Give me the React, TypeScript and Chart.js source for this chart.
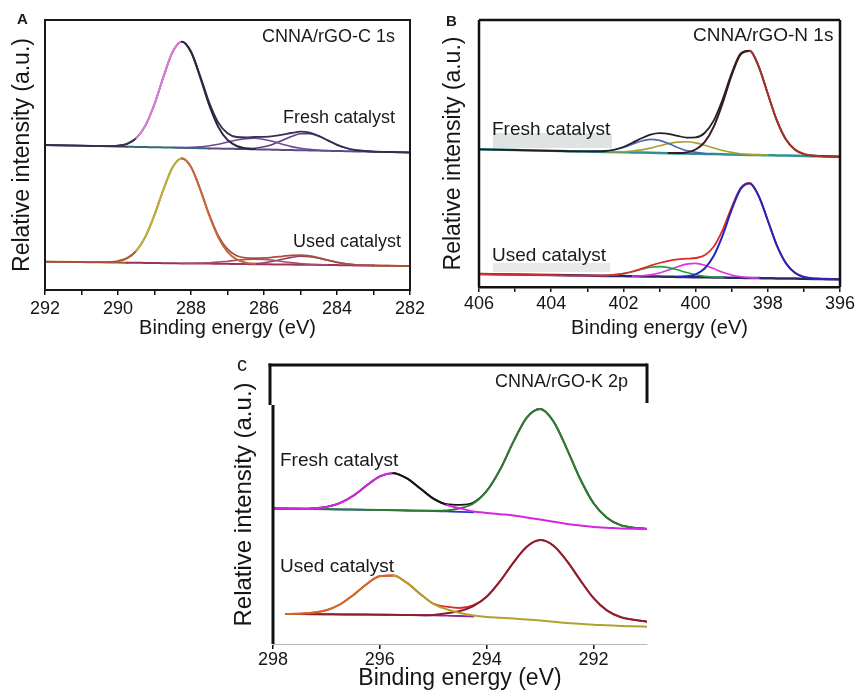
import React, { useEffect, useRef } from "react";
import { Chart, registerables } from "chart.js";

Chart.register(...registerables);
Chart.defaults.font.family = "'Liberation Sans', Arial, sans-serif";

// ---------------- Panel A : C 1s ----------------
const energyA = [292, 291, 290.5, 290, 289.75, 289.5, 289.25, 289, 288.75, 288.5, 288.25, 288, 287.75, 287.5, 287.25, 287, 286.75, 286.5, 286.25, 286, 285.75, 285.5, 285.25, 285, 284.75, 284.5, 284.25, 284, 283.75, 283.5, 283, 282.5, 282];
const freshEnvelopeA = [143, 142.3, 141.9, 142.3, 144.2, 149.9, 162.4, 184.0, 211.7, 236.4, 246.4, 236.5, 212.3, 185.4, 165.3, 154.8, 151.0, 150.6, 151.0, 151.2, 151.9, 153.3, 155.0, 156.3, 155.4, 152.1, 147.6, 143.2, 140.0, 138.0, 136.4, 135.9, 135.5];
const freshMainA = [null, null, null, 142.3, 144.2, 149.9, 162.4, 184.0, 211.7, 236.3, 246.2, 235.9, 210.9, 182.8, 160.9, 148.1, 142.0, 139.7, 138.9, null, null, null, null, null, null, null, null, null, null, null, null, null, null];
const freshPeak2A = [null, null, null, null, null, null, null, null, null, 140.5, 140.4, 140.6, 141.1, 142.2, 143.8, 146.0, 148.0, 149.4, 149.7, 148.5, 146.4, 143.8, 141.4, 139.8, 138.6, 137.8, 137.3, null, null, null, null, null, null];
const freshPeak3A = [null, null, null, null, null, null, null, null, null, null, null, null, null, null, null, null, 139.2, 139.3, 139.8, 141.2, 143.8, 147.6, 151.5, 154.3, 154.4, 151.7, 147.5, 143.2, 140.0, 138.0, 136.4, null, null];
const freshBaseA = [143, 142.3, 141.9, 141.5, 141.3, 141.1, 140.9, 140.8, 140.6, 140.4, 140.2, 140, 139.8, 139.6, 139.4, 139.3, 139.1, 138.9, 138.7, 138.5, 138.3, 138.1, 137.9, 137.8, 137.6, 137.4, 137.2, 137, 136.8, 136.6, 136.3, 135.9, 135.5];
const usedEnvelopeA = [26.3, 25.9, 25.8, 26.9, 29.9, 37.2, 51.2, 73.1, 99.0, 121.0, 129.6, 121.1, 99.1, 73.4, 52.0, 38.8, 32.3, 30.2, 29.9, 30.1, 30.8, 31.7, 32.6, 32.9, 32.0, 30.2, 27.8, 25.7, 24.2, 23.2, 22.5, 22.2, 22.0];
const usedMainA = [null, null, null, 26.9, 29.9, 37.2, 51.2, 73.1, 99.0, 121.0, 129.6, 120.9, 98.7, 72.5, 50.4, 36.2, 28.6, 25.4, 24.2, null, null, null, null, null, null, null, null, null, null, null, null, null, null];
const usedPeak2A = [null, null, null, null, null, null, null, null, null, null, 24.7, 24.8, 24.9, 25.3, 25.9, 26.8, 27.7, 28.5, 28.8, 28.5, 27.7, 26.5, 25.4, 24.5, 23.8, 23.4, 23.1, null, null, null, null, null, null];
const usedPeak3A = [null, null, null, null, null, null, null, null, null, null, null, null, null, null, null, null, 24.0, 24.1, 24.5, 25.3, 26.7, 28.7, 30.6, 31.7, 31.4, 29.9, 27.7, 25.7, 24.2, 23.2, 22.5, null, null];
const usedBaseA = [26.3, 25.9, 25.7, 25.4, 25.3, 25.2, 25.1, 25.0, 24.8, 24.7, 24.6, 24.6, 24.5, 24.4, 24.3, 24.2, 24.0, 23.9, 23.8, 23.7, 23.6, 23.5, 23.4, 23.3, 23.2, 23.1, 23.0, 22.9, 22.8, 22.6, 22.4, 22.2, 22.0];
const ticksA = [292, 291, 290, 289, 288, 287, 286, 285, 284, 283, 282];
const tickLabelsA = [292, 290, 288, 286, 284, 282];

// ---------------- Panel B : N 1s ----------------
const energyB = [406, 405, 404, 403, 402.5, 402, 401.75, 401.5, 401.25, 401, 400.75, 400.5, 400.25, 400, 399.75, 399.5, 399.25, 399, 398.75, 398.5, 398.25, 398, 397.75, 397.5, 397.25, 397, 396.5, 396];
const freshEnvelopeB = [137.7, 137.0, 136.2, 135.6, 136.0, 140.0, 144.2, 148.7, 152.3, 153.8, 153.2, 151.2, 149.4, 149.6, 154.0, 166.3, 187.8, 213.9, 233.6, 236.4, 220.4, 193.3, 166.6, 147.7, 137.4, 133.0, 130.8, 130.3];
const freshMainB = [null, null, null, null, null, null, null, null, null, null, 133.9, 133.9, 134.6, 137.5, 144.9, 160.1, 184.0, 211.8, 232.6, 236.0, 220.2, 193.2, 166.6, 147.7, 137.4, 133.0, 130.8, 130.3];
const freshPeakHighB = [null, null, null, 135.6, 135.9, 139.4, 142.8, 146.0, 147.6, 146.6, 143.5, 139.6, 136.4, 134.6, 133.5, 133.0, null, null, null, null, null, null, null, null, null, null, null, null];
const freshPeakMidB = [null, null, null, null, 135.2, 135.3, 136.0, 137.1, 138.9, 141.2, 143.4, 144.9, 145.2, 144.1, 141.8, 139.0, 136.5, 134.6, 133.3, 132.5, 132.1, 131.9, null, null, null, null, null, null];
const freshBaseB = [137.7, 137.0, 136.2, 135.5, 135.1, 134.7, 134.6, 134.4, 134.2, 134.0, 133.8, 133.6, 133.4, 133.3, 133.1, 132.9, 132.7, 132.5, 132.3, 132.1, 131.9, 131.8, 131.6, 131.4, 131.2, 131.0, 130.7, 130.3];
const usedEnvelopeB = [13.0, 12.5, 11.9, 11.4, 11.5, 13.4, 15.5, 18.3, 21.3, 24.0, 26.1, 27.6, 28.3, 29.0, 31.7, 40.2, 57.1, 80.0, 99.2, 104.0, 90.9, 66.5, 41.6, 23.9, 14.2, 10.0, 8.1, 7.7];
const usedMainB = [null, null, null, null, null, null, null, null, null, null, null, 10.3, 10.7, 12.7, 18.5, 31.0, 51.7, 77.3, 98.1, 103.6, 90.8, 66.5, 41.6, 23.9, 14.2, 10.0, 8.1, 7.7];
const usedPeakHighB = [null, null, null, null, 11.5, 13.4, 15.3, 17.7, 19.7, 20.4, 19.4, 17.2, 14.5, 12.3, 10.8, 10.0, 9.5, null, null, null, null, null, null, null, null, null, null, null];
const usedPeakMidB = [null, null, null, null, null, null, 10.9, 11.2, 12.1, 14.0, 16.9, 20.3, 22.9, 23.6, 21.8, 18.4, 14.7, 12.0, 10.3, 9.4, 9.0, null, null, null, null, null, null, null];
const usedBaseB = [13.0, 12.5, 11.9, 11.4, 11.1, 10.9, 10.7, 10.6, 10.5, 10.4, 10.2, 10.1, 9.9, 9.8, 9.7, 9.6, 9.4, 9.3, 9.2, 9.0, 8.9, 8.8, 8.6, 8.5, 8.4, 8.2, 8.0, 7.7];
const ticksB = [406, 405, 404, 403, 402, 401, 400, 399, 398, 397, 396];
const tickLabelsB = [406, 404, 402, 400, 398, 396];

// ---------------- Panel C : K 2p ----------------
const energyC = [298, 297.75, 297.5, 297, 296.75, 296.5, 296.25, 296, 295.75, 295.5, 295.25, 295, 294.75, 294.5, 294.25, 294, 293.75, 293.5, 293.25, 293, 292.75, 292.5, 292.25, 292, 291.75, 291.5, 291.25, 291];
const freshEnvelopeC = [135.5, 135.4, 135.3, 137.1, 140.9, 148.2, 158.4, 167.6, 170.8, 165.8, 155.8, 145.6, 139.9, 139.2, 141.5, 153.1, 174.4, 202.3, 226.4, 235.0, 222.6, 195.2, 165.0, 140.7, 126.3, 119.0, 116.3, 115.2];
const freshK2p3C = [135.5, 135.4, 135.2, 134.8, 134.6, 134.4, 134.2, 134.0, 133.8, 133.5, 133.3, 133.2, 133.4, 135.7, 140.5, 153.0, 174.4, 202.3, 226.4, 235.0, 222.6, 195.2, 165.0, 140.7, 126.3, 119.0, 116.3, 115.2];
const freshK2p1C = [135.5, 135.4, 135.3, 137.1, 140.9, 148.2, 158.4, 167.6, 170.8, 165.8, 155.8, 145.4, 139.1, 135.7, 132.6, 131.1, 129.8, 128.5, 126.5, 124.5, 122.3, 120.0, 118.5, 117.0, 116.3, 115.5, 115.3, 115.0];
const freshBaseC = [135.5, 135.4, 135.2, 134.8, 134.6, 134.4, 134.2, 134.0, 133.8, 133.5, 133.3, 133.0, 132.6, 132.2, 131.6, null, null, null, null, null, null, null, null, null, null, null, null, null];
const usedEnvelopeC = [null, 30.1, 30.3, 33.8, 39.5, 48.8, 59.8, 67.8, 68.5, 61.4, 50.3, 40.5, 37.3, 36.0, 39.0, 47.4, 62.8, 81.4, 97.2, 103.9, 98.3, 83.1, 63.9, 45.9, 33.6, 27.0, 24.2, 22.3];
const usedK2p1C = [null, 30.1, 30.3, 33.8, 39.5, 48.8, 59.8, 67.8, 68.5, 61.4, 50.3, 40.1, 34.8, 31.0, 28.5, 27.1, 26.3, 25.5, 24.5, 23.5, 22.3, 21.0, 20.2, 19.3, 18.7, 18.0, 17.7, 17.3];
const usedK2p3C = [null, 30.0, 29.9, 29.7, 29.6, 29.5, 29.4, 29.3, 29.2, 29.0, 28.8, 29.0, 30.8, 33.0, 38.0, 47.3, 62.8, 81.4, 97.2, 103.9, 98.3, 83.1, 63.9, 45.9, 33.6, 27.0, 24.2, 22.3];
const usedBaseC = [null, 30.0, 29.9, 29.7, 29.6, 29.5, 29.4, 29.3, 29.2, 29.0, 28.8, 28.6, 28.3, 28.0, 27.5, null, null, null, null, null, null, null, null, null, null, null, null, null];
const ticksC = [298, 296, 294, 292];
const tickLabelsC = [298, 296, 294, 292];

type Series = { values: (number | null)[]; color: string; width: number; colorAt?: (x: number) => string };
type Spec = {
  w: number; h: number; left: number; top: number;
  padding: { left: number; top: number; right: number; bottom: number };
  yAxisWidth: number; xAxisHeight: number;
  xMin: number; xMax: number; yMin: number; yMax: number;
  energy: number[]; ticks: number[]; labels: number[];
  tickSize: number; tickPad: number; xTitleSize: number; xTitlePad: number;
  yTitleSize: number; yTitlePad: number;
  bottomColor: string; bottomWidth: number;
  frame: (ctx: CanvasRenderingContext2D, a: { left: number; right: number; top: number; bottom: number }) => void;
  series: Series[];
};

function line(ctx: CanvasRenderingContext2D, x1: number, y1: number, x2: number, y2: number, w: number, c: string) {
  ctx.save();
  ctx.strokeStyle = c;
  ctx.lineWidth = w;
  ctx.beginPath();
  ctx.moveTo(x1, y1);
  ctx.lineTo(x2, y2);
  ctx.stroke();
  ctx.restore();
}

function build(canvas: HTMLCanvasElement, spec: Spec) {
  const datasets = spec.series.map((s) => ({
    data: spec.energy.map((x, i) => ({ x, y: s.values[i] })),
    borderColor: s.color,
    borderWidth: s.width,
    pointRadius: 0,
    fill: false,
    cubicInterpolationMode: "monotone" as const,
    spanGaps: false,
    borderCapStyle: "round" as const,
    segment: s.colorAt ? { borderColor: (c: any) => (s.colorAt as (x: number) => string)((c.p0.parsed.x + c.p1.parsed.x) / 2) } : undefined,
  }));
  const framePlugin = {
    id: "frame",
    afterDraw(chart: any) {
      spec.frame(chart.ctx, chart.chartArea);
    },
  };
  return new Chart(canvas, {
    type: "line",
    data: { datasets } as any,
    options: {
      animation: false,
      responsive: false,
      events: [],
      layout: { padding: spec.padding },
      plugins: { legend: { display: false }, tooltip: { enabled: false } },
      scales: {
        x: {
          type: "linear",
          reverse: true,
          min: spec.xMin,
          max: spec.xMax,
          afterBuildTicks: (sc: any) => {
            sc.ticks = spec.ticks.map((v) => ({ value: v }));
          },
          afterFit: (sc: any) => {
            sc.height = spec.xAxisHeight;
          },
          ticks: {
            autoSkip: false,
            maxRotation: 0,
            padding: spec.tickPad,
            color: "#151515",
            font: { size: spec.tickSize },
            callback: (v: any) => (spec.labels.includes(Number(v)) ? String(v) : ""),
          },
          grid: { display: true, drawOnChartArea: false, drawTicks: true, tickLength: 5, color: "#111", lineWidth: 1.5 },
          border: { display: true, color: spec.bottomColor, width: spec.bottomWidth },
          title: {
            display: true,
            text: "Binding energy (eV)",
            color: "#151515",
            font: { size: spec.xTitleSize },
            padding: { top: 0, bottom: spec.xTitlePad },
          },
        },
        y: {
          type: "linear",
          min: spec.yMin,
          max: spec.yMax,
          afterFit: (sc: any) => {
            sc.width = spec.yAxisWidth;
          },
          ticks: { display: false },
          grid: { display: false, drawTicks: false },
          border: { display: false },
          title: {
            display: true,
            text: "Relative intensity (a.u.)",
            color: "#151515",
            font: { size: spec.yTitleSize },
            padding: { top: spec.yTitlePad, bottom: 0 },
          },
        },
      },
    } as any,
    plugins: [framePlugin],
  });
}

const specA: Spec = {
  w: 430, h: 345, left: 0, top: 0,
  padding: { left: 0, top: 20, right: 20, bottom: 0 },
  yAxisWidth: 45, xAxisHeight: 55,
  xMin: 282, xMax: 292, yMin: -2, yMax: 268,
  energy: energyA, ticks: ticksA, labels: tickLabelsA,
  tickSize: 18, tickPad: 3, xTitleSize: 20, xTitlePad: 5, yTitleSize: 23, yTitlePad: 9,
  bottomColor: "#111", bottomWidth: 2,
  frame: (ctx, a) => {
    ctx.save();
    ctx.strokeStyle = "#1a1a1a";
    ctx.lineWidth = 2;
    ctx.strokeRect(a.left, a.top, a.right - a.left, a.bottom - a.top);
    ctx.restore();
  },
  series: [
    { values: freshMainA, color: "#2e2440", width: 2, colorAt: (x) => (x > 289.6 ? "#3a3450" : x > 288.2 ? "#e07ad6" : "#2e2440") },
    { values: freshEnvelopeA, color: "#3a2d52", width: 1.8 },
    { values: freshPeak2A, color: "#6b4a96", width: 1.6 },
    { values: freshPeak3A, color: "#5b3f86", width: 1.6 },
    { values: freshBaseA, color: "#3c4a68", width: 2, colorAt: (x) => (x > 289.8 ? "#3a3d55" : x > 287.5 ? "#2f6a7a" : x > 283 ? "#5a4a88" : "#2a3a3a") },
    { values: usedMainA, color: "#c4673a", width: 2, colorAt: (x) => (x > 289.6 ? "#b0603a" : x > 288.2 ? "#b8b23c" : "#c4673a") },
    { values: usedEnvelopeA, color: "#a8503e", width: 1.8 },
    { values: usedPeak2A, color: "#a84a74", width: 1.6 },
    { values: usedPeak3A, color: "#9e3e68", width: 1.6 },
    { values: usedBaseA, color: "#8e2c48", width: 2, colorAt: (x) => (x > 289.8 ? "#9a5a2a" : x > 283.2 ? "#9a3356" : "#a8642e") },
  ],
};

const specB: Spec = {
  w: 429, h: 345, left: 430, top: 0,
  padding: { left: 0, top: 20, right: 19, bottom: 0 },
  yAxisWidth: 49, xAxisHeight: 58,
  xMin: 396, xMax: 406, yMin: 0, yMax: 267,
  energy: energyB, ticks: ticksB, labels: tickLabelsB,
  tickSize: 18, tickPad: 1, xTitleSize: 20, xTitlePad: 5, yTitleSize: 23, yTitlePad: 10,
  bottomColor: "#111", bottomWidth: 2.5,
  frame: (ctx, a) => {
    line(ctx, a.left, a.top, a.left, a.bottom, 2.5, "#111");
    line(ctx, a.left, a.top, a.right, a.top, 2.5, "#111");
    line(ctx, a.right, a.top, a.right, a.bottom, 2.5, "#111");
  },
  series: [
    { values: freshMainB, color: "#a8302a", width: 2, colorAt: (x) => (x > 398.6 ? "#3a1c1c" : "#a8302a") },
    { values: freshEnvelopeB, color: "#222222", width: 1.8 },
    { values: freshPeakHighB, color: "#4a68c0", width: 1.6 },
    { values: freshPeakMidB, color: "#a8a032", width: 1.6 },
    { values: freshBaseB, color: "#2f9290", width: 2.5 },
    { values: usedMainB, color: "#2424c0", width: 2 },
    { values: usedEnvelopeB, color: "#e02a2a", width: 1.8 },
    { values: usedPeakHighB, color: "#22a040", width: 1.6 },
    { values: usedPeakMidB, color: "#e030e0", width: 1.6 },
    { values: usedBaseB, color: "#2a2a66", width: 2.5 },
  ],
};

const specC: Spec = {
  w: 439, h: 357, left: 220, top: 340,
  padding: { left: 0, top: 25, right: 12, bottom: 0 },
  yAxisWidth: 53, xAxisHeight: 53,
  xMin: 291, xMax: 298, yMin: 0, yMax: 279,
  energy: energyC, ticks: ticksC, labels: tickLabelsC,
  tickSize: 18, tickPad: 0, xTitleSize: 23, xTitlePad: 4.5, yTitleSize: 24, yTitlePad: 9.6,
  bottomColor: "#b8b8b8", bottomWidth: 1,
  frame: (ctx, a) => {
    line(ctx, a.left - 3, a.top - 1.5, a.left - 3, a.top + 40, 3, "#111");
    line(ctx, a.left, a.top + 40, a.left, a.bottom, 3, "#111");
    line(ctx, a.left - 4.5, a.top, a.right, a.top, 3, "#111");
    line(ctx, a.right, a.top - 1.5, a.right, a.top + 38, 3, "#111");
  },
  series: [
    { values: freshK2p1C, color: "#d426e0", width: 2, colorAt: (x) => (x > 295.75 ? "#d426e0" : x > 294.7 ? "#151515" : "#d426e0") },
    { values: freshK2p3C, color: "#2f7d34", width: 2 },
    { values: freshEnvelopeC, color: "#151515", width: 1.8 },
    { values: freshBaseC, color: "#2a34d0", width: 1.8 },
    { values: usedK2p1C, color: "#b0a030", width: 2, colorAt: (x) => (x > 295.85 ? "#d06a1e" : "#b0a030") },
    { values: usedK2p3C, color: "#8c1e30", width: 2 },
    { values: usedEnvelopeC, color: "#e02828", width: 1.8 },
    { values: usedBaseC, color: "#8a2a9a", width: 1.8 },
  ],
};

function Panel({ spec }: { spec: Spec }) {
  const ref = useRef<HTMLCanvasElement | null>(null);
  useEffect(() => {
    if (!ref.current) return;
    const chart = build(ref.current, spec);
    return () => chart.destroy();
  }, [spec]);
  return (
    <canvas
      ref={ref}
      width={spec.w}
      height={spec.h}
      style={{ position: "absolute", left: spec.left, top: spec.top, width: spec.w, height: spec.h, display: "block" }}
    />
  );
}

function Label({ x, y, size, text, bold }: { x: number; y: number; size: number; text: string; bold?: boolean }) {
  return (
    <div
      style={{
        position: "absolute",
        left: x,
        top: y,
        fontSize: size,
        lineHeight: 1,
        whiteSpace: "nowrap",
        color: "#1a1a1a",
        fontWeight: bold ? 700 : 400,
        fontFamily: "'Liberation Sans', Arial, sans-serif",
      }}
    >
      {text}
    </div>
  );
}

export default function App() {
  return (
    <div style={{ position: "absolute", left: 0, top: 0, width: 859, height: 697, background: "#ffffff", overflow: "hidden" }}>
      <div style={{ position: "absolute", left: 493, top: 133, width: 119, height: 15, background: "#dfe3e3" }} />
      <div style={{ position: "absolute", left: 493, top: 263, width: 117, height: 9, background: "#e8e8e8" }} />
      <Panel spec={specA} />
      <Panel spec={specB} />
      <Panel spec={specC} />
      <Label x={17} y={11} size={15} text="A" bold />
      <Label x={262} y={27} size={18} text="CNNA/rGO-C 1s" />
      <Label x={283} y={108} size={18} text="Fresh catalyst" />
      <Label x={293} y={232} size={18} text="Used catalyst" />
      <Label x={446} y={13} size={15} text="B" bold />
      <Label x={693} y={25} size={19} text="CNNA/rGO-N 1s" />
      <Label x={492} y={119} size={19} text="Fresh catalyst" />
      <Label x={492} y={245} size={19} text="Used catalyst" />
      <Label x={237} y={354} size={20} text="c" />
      <Label x={495} y={372} size={18} text="CNNA/rGO-K 2p" />
      <Label x={280} y={450} size={19} text="Fresh catalyst" />
      <Label x={280} y={556} size={19} text="Used catalyst" />
    </div>
  );
}
